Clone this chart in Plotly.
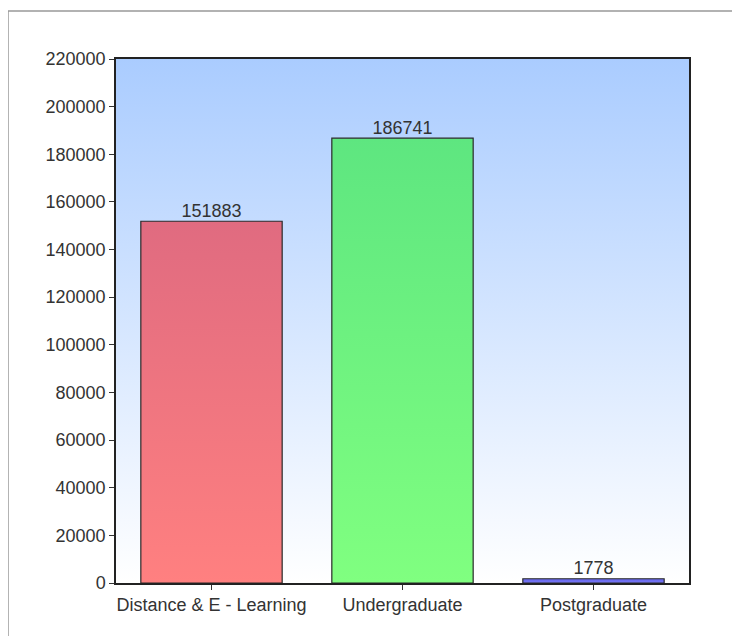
import plotly.graph_objects as go

categories = ["Distance & E - Learning", "Undergraduate", "Postgraduate"]
values = [151883, 186741, 1778]
y_tick_values = [0, 20000, 40000, 60000, 80000, 100000, 120000, 140000,
                 160000, 180000, 200000, 220000]
bar_top_colors = ["#e06b80", "#5ee680", "#6464e8"]
bar_bottom_colors = ["#ff8080", "#80ff80", "#7878f8"]

BAR_HALF = 0.37
FONT = "Liberation Sans"
FS = 18

fig = go.Figure()

# plot-area background gradient (base axes, 0..1)
fig.add_trace(go.Scatter(
    x=[0, 1, 1, 0, 0], y=[0, 0, 1, 1, 0], mode="lines", fill="toself",
    line=dict(width=0), hoverinfo="skip", showlegend=False,
    fillgradient=dict(type="vertical",
                      colorscale=[[0, "#ffffff"], [1, "#aaccff"]]),
    xaxis="x", yaxis="y"))

for i, (cat, v) in enumerate(zip(categories, values)):
    fig.add_trace(go.Scatter(
        x=[i - BAR_HALF, i - BAR_HALF, i + BAR_HALF, i + BAR_HALF, i - BAR_HALF],
        y=[0, v, v, 0, 0], mode="lines", fill="toself",
        line=dict(color="#2a2a2a", width=1.2),
        fillgradient=dict(type="vertical",
                          colorscale=[[0, bar_bottom_colors[i]], [1, bar_top_colors[i]]]),
        hoverinfo="skip", showlegend=False, xaxis="x2", yaxis="y2"))

fig.add_trace(go.Scatter(
    x=list(range(len(categories))), y=values, mode="text",
    text=[str(v) for v in values], textposition="top center",
    textfont=dict(family=FONT, size=FS, color="#333333"),
    hoverinfo="skip", showlegend=False, xaxis="x2", yaxis="y2"))

fig.update_layout(
    width=740, height=636,
    margin=dict(l=108, r=59, t=51, b=61),
    paper_bgcolor="white", plot_bgcolor="white",
    font=dict(family=FONT, size=FS, color="#333333"),
    xaxis=dict(range=[0, 1], visible=False, fixedrange=True),
    yaxis=dict(range=[0, 1], visible=False, fixedrange=True),
    xaxis2=dict(overlaying="x", anchor="y2", range=[-0.5, 2.5],
                tickvals=list(range(len(categories))), ticktext=categories,
                ticks="outside", ticklen=5, tickcolor="#333333",
                showline=True, linecolor="#222222", linewidth=1.5, mirror=True,
                showgrid=False, zeroline=False,
                tickfont=dict(family=FONT, size=FS, color="#333333")),
    yaxis2=dict(overlaying="y", anchor="x2", range=[0, 220000],
                tickvals=y_tick_values, ticktext=[str(t) for t in y_tick_values],
                ticks="outside", ticklen=5, tickcolor="#333333",
                showline=True, linecolor="#222222", linewidth=1.5, mirror=True,
                showgrid=False, zeroline=False,
                tickfont=dict(family=FONT, size=FS, color="#333333")),
    shapes=[dict(type="rect", xref="paper", yref="paper",
                 x0=-0.1885, x1=1.5, y0=-0.5, y1=1.0916,
                 line=dict(color="#999999", width=1.5), layer="below")],
)

fig.write_html("out.html")
